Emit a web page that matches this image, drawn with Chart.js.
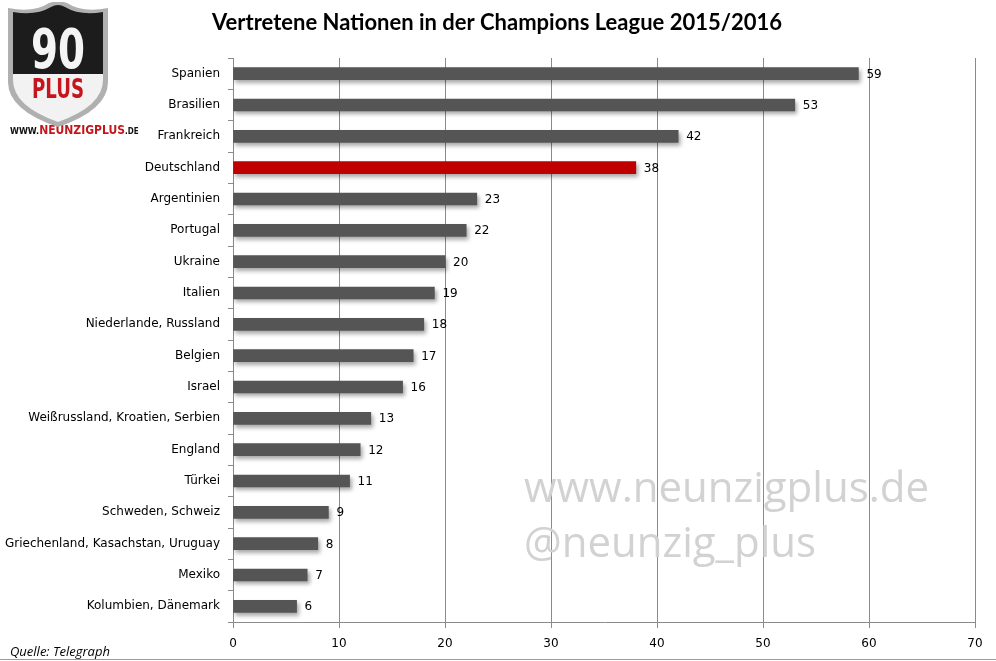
<!DOCTYPE html>
<html><head><meta charset="utf-8">
<script src="https://cdn.jsdelivr.net/npm/chart.js@4"></script>
<style>
html,body{margin:0;padding:0;background:#fff;}
#wrap{position:relative;width:996px;height:661px;}
canvas#c{position:absolute;left:0;top:0;}
#logo{position:absolute;left:4px;top:2px;}
</style></head><body>
<div id="wrap">
<canvas id="c" width="996" height="661"></canvas>
<svg id="logo" width="108" height="126" viewBox="0 0 108 126">
  <defs><clipPath id="sh"><path d="M9 10 Q32 14 47 5 Q54 1 61 5 Q76 14 99 10 L99 78 Q99 104 54 120 Q9 104 9 78 Z"/></clipPath></defs>
  <path d="M4 6 Q30 11 45 1 Q54 -2 63 1 Q78 11 104 6 L104 80 Q104 108 54 125 Q4 108 4 80 Z" fill="#b0b0b0"/>
  <g clip-path="url(#sh)">
    <rect x="0" y="0" width="108" height="72" fill="#1c1c1c"/>
    <rect x="0" y="72" width="108" height="60" fill="#f2f2f2"/>
  </g>
  <text x="54" y="66" text-anchor="middle" font-family="Liberation Sans Narrow, DejaVu Sans Condensed, sans-serif" font-weight="bold" font-size="56" fill="#f4f4f4" textLength="54" lengthAdjust="spacingAndGlyphs">90</text>
  <text x="54" y="96" text-anchor="middle" font-family="Liberation Sans Narrow, DejaVu Sans Condensed, sans-serif" font-weight="bold" font-size="26" fill="#c4161c" textLength="52" lengthAdjust="spacingAndGlyphs">PLUS</text>
</svg>
</div>
<script>
const categories = ["Spanien","Brasilien","Frankreich","Deutschland","Argentinien","Portugal","Ukraine","Italien","Niederlande, Russland","Belgien","Israel","Weißrussland, Kroatien, Serbien","England","Türkei","Schweden, Schweiz","Griechenland, Kasachstan, Uruguay","Mexiko","Kolumbien, Dänemark"];
const values = [59,53,42,38,23,22,20,19,18,17,16,13,12,11,9,8,7,6];
const highlight = "Deutschland";
const xTicks = [0,10,20,30,40,50,60,70];
const titleText = "Vertretene Nationen in der Champions League 2015/2016";
const sourceText = "Quelle: Telegraph";
const watermark1 = "www.neunzigplus.de";
const watermark2 = "@neunzig_plus";

const colors = categories.map(c => c === highlight ? "#c00000" : "#555555");

const extras = {
  id: 'extras',
  beforeDatasetsDraw(chart){
    const ctx = chart.ctx; ctx.save();
    ctx.shadowColor = 'rgba(0,0,0,0.35)';
    ctx.shadowBlur = 4; ctx.shadowOffsetX = 2; ctx.shadowOffsetY = 3;
  },
  afterDatasetsDraw(chart){
    chart.ctx.restore();
    const ctx = chart.ctx;
    const meta = chart.getDatasetMeta(0);
    ctx.save();
    ctx.font = '12px "DejaVu Sans", sans-serif';
    ctx.fillStyle = '#000'; ctx.textBaseline = 'middle'; ctx.textAlign = 'left';
    meta.data.forEach((b,i)=>{ ctx.fillText(String(values[i]), b.x + 8, b.y + 1); });
    ctx.restore();
  },
  afterDraw(chart){
    const ctx = chart.ctx; ctx.save();
    ctx.font = 'bold 22px Lato, "Open Sans", sans-serif';
    ctx.fillStyle = '#000'; ctx.textAlign = 'center'; ctx.textBaseline = 'middle';
    ctx.fillText(titleText, 497, 23);
    ctx.font = 'italic 13px "Open Sans", sans-serif';
    ctx.textAlign = 'left'; ctx.textBaseline = 'alphabetic';
    ctx.fillText(sourceText, 10, 656);
    ctx.font = '42px "Open Sans", sans-serif';
    ctx.fillStyle = '#d2d2d2';
    ctx.fillText(watermark1, 524, 502);
    ctx.fillText(watermark2, 524, 557);
    ctx.strokeStyle = '#9a9a9a'; ctx.lineWidth = 1;
    ctx.beginPath(); ctx.moveTo(0, 659.5); ctx.lineTo(996, 659.5); ctx.stroke();
    ctx.font = 'bold 9px "Liberation Sans Narrow", "DejaVu Sans Condensed", sans-serif';
    ctx.fillStyle = '#111'; ctx.textAlign = 'left';
    ctx.fillText('WWW.', 10, 134);
    let w = ctx.measureText('WWW.').width;
    ctx.font = 'bold 12px "Liberation Sans Narrow", "DejaVu Sans Condensed", sans-serif';
    ctx.fillStyle = '#c4161c';
    ctx.fillText('NEUNZIGPLUS', 10 + w, 134);
    let w2 = ctx.measureText('NEUNZIGPLUS').width;
    ctx.font = 'bold 8px "Liberation Sans Narrow", "DejaVu Sans Condensed", sans-serif';
    ctx.fillStyle = '#111';
    ctx.fillText('.DE', 10 + w + w2, 134);
    ctx.restore();
  }
};

new Chart(document.getElementById('c'), {
  type: 'bar',
  data: { labels: categories, datasets: [{ data: values, backgroundColor: colors, barThickness: 12 }] },
  options: {
    indexAxis: 'y', responsive: false, animation: false,
    layout: { padding: { top: 58, right: 21, bottom: 0, left: 0 } },
    plugins: { legend: { display: false }, tooltip: { enabled: false }, title: { display: false } },
    scales: {
      x: {
        min: 0, max: 70,
        afterBuildTicks(s){ s.ticks = xTicks.map(v=>({value:v})); },
        grid: { color: '#8a8a8a', tickLength: 6, lineWidth: 1 },
        border: { color: '#8a8a8a' },
        ticks: { color: '#000', font: { family: '"DejaVu Sans", sans-serif', size: 12 }, padding: 9 },
        afterFit(s){ s.height = 39; }
      },
      y: {
        grid: { drawOnChartArea: false, color: '#8a8a8a', tickLength: 5, offset: true },
        border: { color: '#8a8a8a' },
        ticks: { color: '#000', font: { family: '"DejaVu Sans", sans-serif', size: 12 }, padding: 8, autoSkip: false },
        afterFit(s){ s.width = 233; }
      }
    }
  },
  plugins: [extras]
});
</script>
</body></html>
